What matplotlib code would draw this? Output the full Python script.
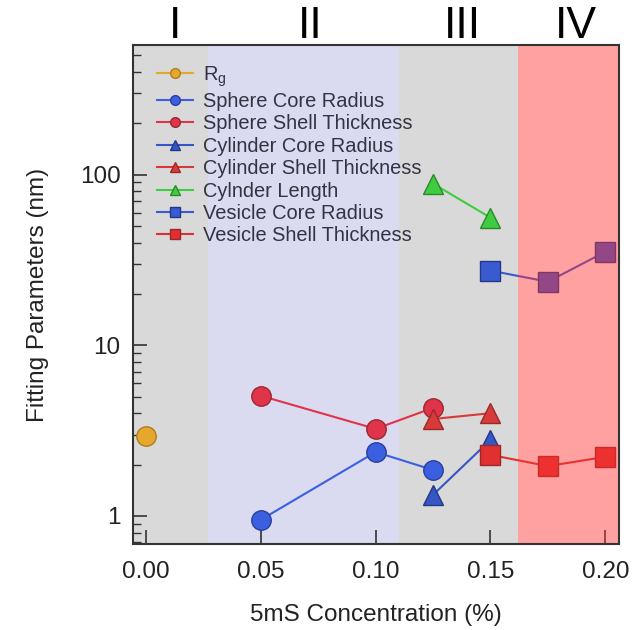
import matplotlib
matplotlib.use("Agg")
import matplotlib.pyplot as plt
from matplotlib.ticker import LogLocator, NullFormatter, FixedLocator

plt.rcParams["font.family"] = ["Liberation Sans", "DejaVu Sans"]
plt.rcParams["mathtext.fontset"] = "custom"
plt.rcParams["mathtext.rm"] = "Liberation Sans"

# data
rg_x = [0.0]
rg_y = [2.94]
sphere_x = [0.05, 0.10, 0.125]
sphere_core = [0.95, 2.37, 1.86]
sphere_shell = [5.06, 3.24, 4.3]
cyl_x = [0.125, 0.15]
cyl_core = [1.33, 2.79]
cyl_shell = [3.7, 4.0]
cyl_length = [88.6, 56.0]
ves_x = [0.15, 0.175, 0.20]
ves_core = [27.4, 23.6, 35.3]
ves_shell = [2.28, 1.96, 2.22]

region_edges = [-0.01, 0.027, 0.11, 0.162, 0.21]
region_names = ["I", "II", "III", "IV"]
region_label_x = [0.0126, 0.0713, 0.1378, 0.1874]

fig = plt.figure(figsize=(6.33, 6.30), dpi=100)
ax = fig.add_axes([0.21, 0.1365, 0.768, 0.792])

txt = "#222222"
ax.axvspan(region_edges[0], region_edges[1], color="#d9d9d9", zorder=0, lw=0)
ax.axvspan(region_edges[1], region_edges[2], color="#dadaf0", zorder=0, lw=0)
ax.axvspan(region_edges[2], region_edges[3], color="#d9d9d9", zorder=0, lw=0)
# region IV is laid on top, tinting the markers
ax.axvspan(region_edges[3], region_edges[4], color="#ff3030", alpha=0.45,
           zorder=5, lw=0)

ms = 14
ax.plot(rg_x, rg_y, "-o", color="#e6a82c", mec="#b07c20", ms=ms,
        label="R$_\\mathregular{g}$", zorder=3)
ax.plot(sphere_x, sphere_core, "-o", color="#3a5fe0", mec="#2a3f9a", ms=ms,
        label="Sphere Core Radius", zorder=3)
ax.plot(sphere_x, sphere_shell, "-o", color="#e0344a", mec="#9a2a30", ms=ms,
        label="Sphere Shell Thickness", zorder=3)
ax.plot(cyl_x, cyl_core, "-^", color="#3556c4", mec="#22388a", ms=ms,
        label="Cylinder Core Radius", zorder=3)
ax.plot(cyl_x, cyl_shell, "-^", color="#d83a3a", mec="#9a2a2a", ms=ms,
        label="Cylinder Shell Thickness", zorder=3)
ax.plot(cyl_x, cyl_length, "-^", color="#40cc40", mec="#2a8a2a", ms=ms,
        label="Cylnder Length", zorder=3)
ax.plot(ves_x, ves_core, "-s", color="#3a5ad0", mec="#22388a", ms=ms,
        label="Vesicle Core Radius", zorder=3)
ax.plot(ves_x, ves_shell, "-s", color="#e03030", mec="#9a2a2a", ms=ms,
        label="Vesicle Shell Thickness", zorder=3)

ax.set_yscale("log")
ax.set_xlim(-0.0057, 0.206)
ax.set_ylim(0.685, 575)
ax.xaxis.set_major_locator(FixedLocator([0.0, 0.05, 0.10, 0.15, 0.20]))
ax.set_xticklabels(["0.00", "0.05", "0.10", "0.15", "0.20"])
ax.yaxis.set_major_locator(FixedLocator([1, 10, 100]))
ax.set_yticklabels(["1", "10", "100"])
ax.yaxis.set_minor_locator(LogLocator(base=10, subs=range(2, 10)))
ax.yaxis.set_minor_formatter(NullFormatter())
ax.tick_params(axis="both", which="major", direction="in", length=10,
               width=1.2, labelsize=17.5, colors="#333333", labelcolor=txt)
ax.tick_params(axis="x", which="major", pad=12)
ax.tick_params(axis="y", which="major", pad=9)
ax.tick_params(axis="y", which="minor", direction="in", length=5.5,
               width=1, colors="#333333")
ax.tick_params(axis="x", which="minor", bottom=False)
for s in ax.spines.values():
    s.set_color("#333333")
    s.set_linewidth(1.5)
    s.set_zorder(6)

ax.set_xlabel("5mS Concentration (%)", fontsize=17.5, color=txt, labelpad=15)
ax.set_ylabel("Fitting Parameters (nm)", fontsize=17.5, color=txt, labelpad=22)

leg = ax.legend(loc="upper left", frameon=False, fontsize=14.4, markerscale=0.5,
                handlelength=1.8, handletextpad=0.5, labelspacing=0.17,
                borderaxespad=0.3, bbox_to_anchor=(0.02, 0.99))
for t in leg.get_texts():
    t.set_color("#333344")
leg.set_zorder(7)

for name, xpos in zip(region_names, region_label_x):
    ax.text(xpos, 1.014, name, transform=ax.get_xaxis_transform(),
            ha="center", va="baseline", fontsize=32, color="black")

fig.savefig("out.png", dpi=100)
